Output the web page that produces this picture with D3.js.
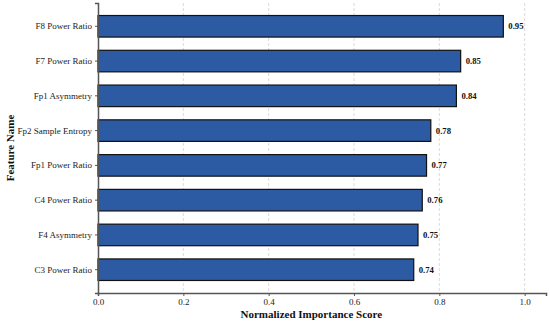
<!DOCTYPE html>
<html>
<head>
<meta charset="utf-8">
<script src="https://cdn.jsdelivr.net/npm/d3@7"></script>
<style>
  body { margin: 0; background: #fff; }
  svg text { font-family: "Liberation Serif", "Times New Roman", serif; }
</style>
</head>
<body>
<div id="chart"></div>
<script>
// feature names, top to bottom
const features = ["F8 Power Ratio", "F7 Power Ratio", "Fp1 Asymmetry", "Fp2 Sample Entropy",
                  "Fp1 Power Ratio", "C4 Power Ratio", "F4 Asymmetry", "C3 Power Ratio"];
const scores = [0.95, 0.85, 0.84, 0.78, 0.77, 0.76, 0.75, 0.74];
const xTicks = [0.0, 0.2, 0.4, 0.6, 0.8, 1.0];

const W = 550, H = 323;
const margin = { top: 3, right: 4, bottom: 30, left: 98 };
const width = W - margin.left - margin.right;
const height = H - margin.top - margin.bottom;
const serif = "Liberation Serif, Times New Roman, serif";

const data = features.map((f, i) => ({ name: f, value: scores[i] }));

const svg = d3.select("#chart").append("svg")
    .attr("width", W)
    .attr("height", H)
    .attr("font-family", serif);

const g = svg.append("g")
    .attr("transform", "translate(" + margin.left + "," + margin.top + ")");

const x = d3.scaleLinear().domain([0, 1.05]).range([0, width]);
const y = d3.scaleBand().domain(features).range([0, height])
    .paddingInner(0.38).paddingOuter(0.36);

// vertical dashed grid
g.append("g")
    .selectAll("line")
    .data(xTicks.slice(1))
  .enter().append("line")
    .attr("x1", d => x(d)).attr("x2", d => x(d))
    .attr("y1", 0).attr("y2", height)
    .attr("stroke", "#d0d0d0")
    .attr("stroke-width", 0.8)
    .attr("stroke-dasharray", "3,2");

// bars
g.append("g")
    .selectAll("rect")
    .data(data)
  .enter().append("rect")
    .attr("x", x(0))
    .attr("y", d => y(d.name))
    .attr("width", d => x(d.value) - x(0))
    .attr("height", y.bandwidth())
    .attr("fill", "#2d5ba3")
    .attr("stroke", "#111")
    .attr("stroke-width", 1.2);

// value labels
g.append("g")
    .selectAll("text")
    .data(data)
  .enter().append("text")
    .attr("x", d => x(d.value) + 5)
    .attr("y", d => y(d.name) + y.bandwidth() / 2)
    .attr("dy", "0.35em")
    .attr("font-size", 8.7)
    .attr("font-weight", "bold")
    .attr("fill", "#111")
    .text(d => d.value.toFixed(2));

// axes
const xAxis = g.append("g")
    .attr("transform", "translate(0," + height + ")")
    .call(d3.axisBottom(x).tickValues(xTicks).tickFormat(d3.format(".1f")).tickSize(3).tickPadding(3));
const yAxis = g.append("g")
    .call(d3.axisLeft(y).tickSize(3).tickPadding(3));

[xAxis, yAxis].forEach(a => {
    a.attr("font-family", serif).attr("font-size", 9);
    a.select(".domain").attr("stroke", "#555").attr("stroke-width", 1.5);
    a.selectAll(".tick line").attr("stroke", "#555");
    a.selectAll(".tick text").attr("fill", "#222");
});

// axis titles
svg.append("text")
    .attr("x", margin.left + x(0.5))
    .attr("y", 318)
    .attr("text-anchor", "middle")
    .attr("font-size", 11)
    .attr("font-weight", "bold")
    .attr("fill", "#111")
    .text("Normalized Importance Score");

svg.append("text")
    .attr("transform", "translate(10," + (margin.top + height / 2) + ") rotate(-90)")
    .attr("text-anchor", "middle")
    .attr("dy", "0.35em")
    .attr("font-size", 11)
    .attr("font-weight", "bold")
    .attr("fill", "#111")
    .text("Feature Name");
</script>
</body>
</html>
